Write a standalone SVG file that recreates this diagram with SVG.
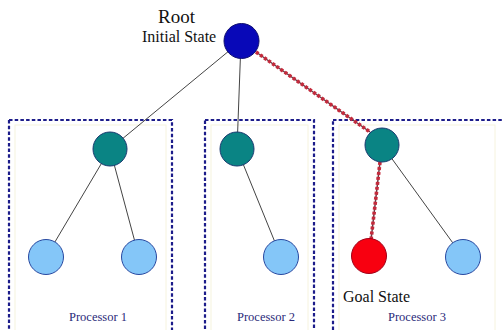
<svg xmlns="http://www.w3.org/2000/svg" width="502" height="330" viewBox="0 0 502 330">
<style>
.box{fill:none;stroke:#1c1c8a;stroke-width:2.2;stroke-dasharray:3.5 2.2}
.inner{fill:none;stroke:#f6f3de;stroke-width:1}
.edge{stroke:#444;stroke-width:1}
.pathbase{stroke:#6a3a44;stroke-width:1.5;fill:none}
.pathdash{stroke:#c42a3c;stroke-width:3.6;stroke-dasharray:3 2;fill:none}
.root{fill:#0808b8;stroke:#101070;stroke-width:1}
.mid{fill:#0a8484;stroke:#1a3a70;stroke-width:1}
.leaf{fill:#84c6f8;stroke:#2848a0;stroke-width:1}
.goal{fill:#f80010;stroke:#a00018;stroke-width:1}
.lbl{font-family:"Liberation Serif",serif;fill:#111}
.proc{font-family:"Liberation Serif",serif;font-size:12.5px;fill:#2a2a7a}
</style>
<rect width="502" height="330" fill="#fff"/>
<g id="processor1">
<rect class="inner" x="15" y="125" width="151" height="210"/>
<rect class="box" x="9" y="120" width="163" height="215"/>
<text class="proc" x="98" y="321" text-anchor="middle">Processor 1</text>
</g>
<g id="processor2">
<rect class="inner" x="211" y="125" width="97" height="210"/>
<rect class="box" x="205" y="120" width="109" height="215"/>
<text class="proc" x="266" y="321" text-anchor="middle">Processor 2</text>
</g>
<g id="processor3">
<rect class="inner" x="339" y="125" width="156" height="210"/>
<rect class="box" x="333" y="120" width="175" height="215"/>
<text class="proc" x="417" y="321" text-anchor="middle">Processor 3</text>
</g>
<g id="connectors">
<line class="edge" x1="241" y1="41" x2="110" y2="149"/>
<line class="edge" x1="241" y1="41" x2="237" y2="149"/>
<line class="edge" x1="110" y1="149" x2="46" y2="257"/>
<line class="edge" x1="110" y1="149" x2="139" y2="257"/>
<line class="edge" x1="237" y1="149" x2="281" y2="257"/>
<line class="edge" x1="382" y1="145" x2="463" y2="257"/>
<line class="pathbase" x1="256" y1="52" x2="370" y2="132"/>
<line class="pathdash" x1="256" y1="52" x2="370" y2="132"/>
<line class="pathbase" x1="380" y1="162" x2="371" y2="240"/>
<line class="pathdash" x1="380" y1="162" x2="371" y2="240"/>
</g>
<g id="root">
<circle class="root" cx="241.5" cy="41" r="17.5"/>
<text class="lbl" x="158" y="23" font-size="19">Root</text>
<text class="lbl" x="142" y="42" font-size="16">Initial State</text>
</g>
<g id="p1-mid"><circle class="mid" cx="110" cy="149" r="17"/></g>
<g id="p1-leaf-left"><circle class="leaf" cx="46" cy="257" r="17.5"/></g>
<g id="p1-leaf-right"><circle class="leaf" cx="139" cy="257" r="17.5"/></g>
<g id="p2-mid"><circle class="mid" cx="237" cy="149" r="17"/></g>
<g id="p2-leaf"><circle class="leaf" cx="281" cy="257" r="17.5"/></g>
<g id="p3-mid"><circle class="mid" cx="382" cy="145" r="17"/></g>
<g id="goal">
<circle class="goal" cx="369" cy="256" r="17.5"/>
<text class="lbl" x="343" y="302" font-size="16">Goal State</text>
</g>
<g id="p3-leaf"><circle class="leaf" cx="463" cy="257" r="17.5"/></g>
</svg>
